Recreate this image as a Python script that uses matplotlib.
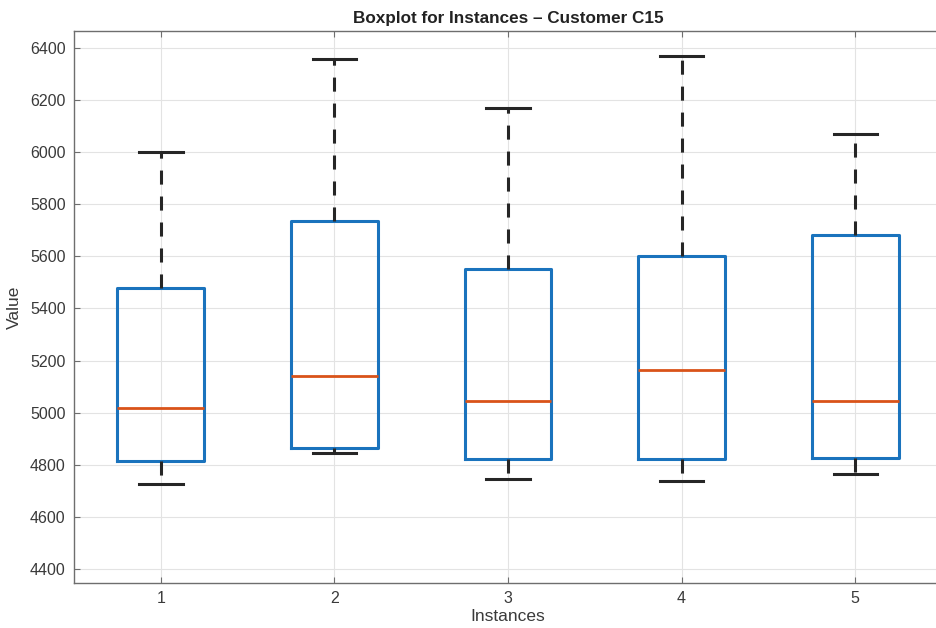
import matplotlib
matplotlib.use("Agg")
import matplotlib.pyplot as plt

plt.rcParams['font.family'] = ['Liberation Sans', 'DejaVu Sans']

instances = [1, 2, 3, 4, 5]
whisker_low = [4726, 4846, 4746, 4739, 4764]
q1 = [4816, 4865, 4822, 4821, 4827]
median = [5019, 5140, 5045, 5163, 5045]
q3 = [5480, 5735, 5553, 5602, 5680]
whisker_high = [6000, 6356, 6170, 6369, 6071]

title = "Boxplot for Instances \u2013 Customer C15"
xlabel = "Instances"
ylabel = "Value"
yticks = [4400, 4600, 4800, 5000, 5200, 5400, 5600, 5800, 6000, 6200, 6400]

fig = plt.figure(figsize=(9.36, 6.28), dpi=100)
ax = fig.add_axes([74/936, 45/628, 868/936, 552/628])

stats = []
for i in range(len(instances)):
    stats.append(dict(whislo=whisker_low[i], q1=q1[i], med=median[i],
                      q3=q3[i], whishi=whisker_high[i], fliers=[],
                      label=str(instances[i])))

ax.bxp(stats, positions=instances, widths=0.5, showfliers=False,
       boxprops=dict(color='#1A73BD', linewidth=2.2),
       medianprops=dict(color='#D95319', linewidth=2.0),
       whiskerprops=dict(color='#262626', linewidth=2.2, linestyle=(0, (4.6, 3.9))),
       capprops=dict(color='#262626', linewidth=2.2),
       capwidths=0.25)

ax.set_xlim(0.5, 5.5)
ax.set_ylim(4346, 6465)
ax.set_yticks(yticks)
ax.set_xticks(instances)
ax.set_xticklabels([str(i) for i in instances])

ax.grid(True, color='#E3E3E3', linewidth=0.8)
ax.set_axisbelow(True)
for s in ax.spines.values():
    s.set_color('#6E6E6E')
    s.set_linewidth(1.0)
ax.tick_params(axis='both', direction='in', length=4, width=0.8, colors='#6E6E6E',
               labelcolor='#3A3A3A', labelsize=11.5, top=True, right=True, pad=6)

ax.set_title(title, fontsize=12.3, fontweight='bold', color='#222222', pad=6)
ax.set_xlabel(xlabel, fontsize=12.5, color='#3A3A3A', labelpad=2)
ax.set_ylabel(ylabel, fontsize=12.5, color='#3A3A3A', labelpad=6)

fig.savefig("out.png", dpi=100)
